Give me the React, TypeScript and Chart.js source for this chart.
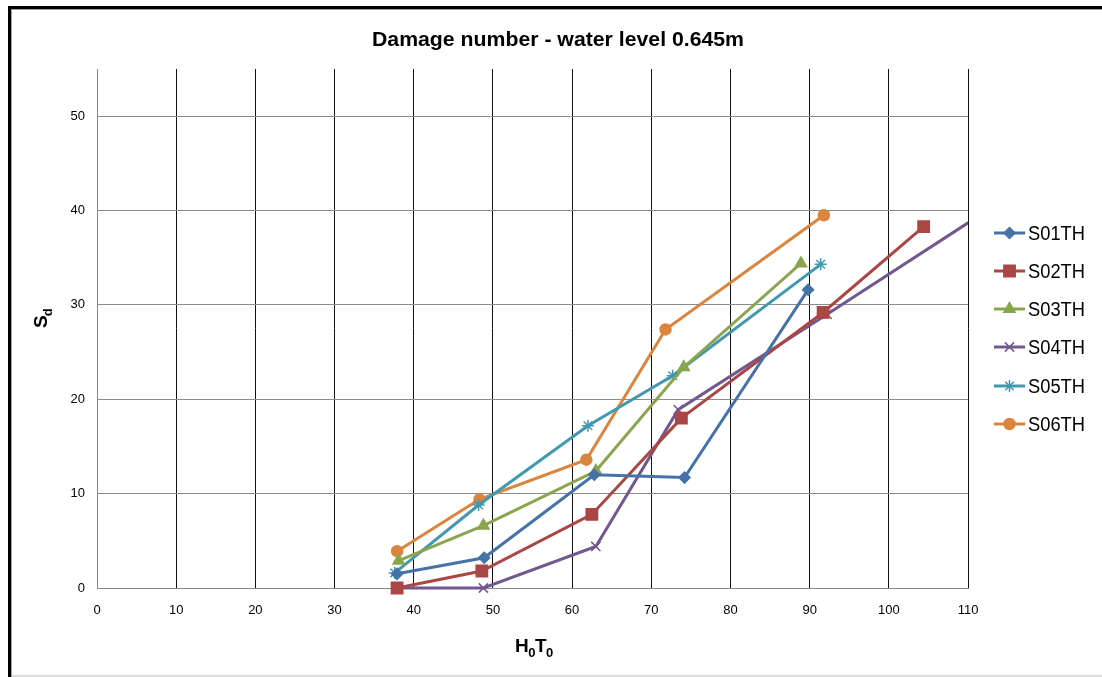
import React, { useEffect, useRef } from 'react';
import { Chart, registerables } from 'chart.js';
import { drawPoint } from 'chart.js/helpers';

Chart.register(...registerables);

const chartTitle = 'Damage number - water level 0.645m';
const seriesNames = ['S01TH', 'S02TH', 'S03TH', 'S04TH', 'S05TH', 'S06TH'];

const s01X = [37.9, 48.9, 62.8, 74.2, 89.8];
const s01Y = [1.5, 3.2, 12.0, 11.7, 31.6];
const s02X = [37.9, 48.6, 62.5, 73.8, 91.7, 104.4];
const s02Y = [0.0, 1.8, 7.8, 18.0, 29.2, 38.3];
const s03X = [38.1, 48.8, 63.0, 74.1, 88.9];
const s03Y = [2.9, 6.6, 12.4, 23.4, 34.4];
const s04X = [38.0, 48.8, 63.0, 73.4, 92.2, 119.0];
const s04Y = [0.0, 0.0, 4.4, 18.9, 29.0, 43.6];
const s05X = [37.6, 48.2, 62.0, 72.7, 91.4];
const s05Y = [1.6, 8.8, 17.2, 22.5, 34.3];
const s06X = [37.9, 48.3, 61.8, 71.8, 91.8];
const s06Y = [3.9, 9.4, 13.6, 27.4, 39.5];

const xTickValues = [0, 10, 20, 30, 40, 50, 60, 70, 80, 90, 100, 110];
const yTickValues = [0, 10, 20, 30, 40, 50];

const seriesX = [s01X, s02X, s03X, s04X, s05X, s06X];
const seriesY = [s01Y, s02Y, s03Y, s04Y, s05Y, s06Y];
const colors = ['#4572A7', '#AA4643', '#89A54E', '#71588F', '#4198AF', '#DB843D'];
const pointStyles = ['rectRot', 'rect', 'triangle', 'crossRot', 'star', 'circle'];
const pointRadii = [5.5, 8, 6.5, 6.5, 6, 5.5];

const FONT = '"Liberation Sans", Arial, Helvetica, sans-serif';

const overlayPlugin = {
  id: 'overlay',
  afterDraw(chart: any) {
    const ctx = chart.ctx as CanvasRenderingContext2D;
    // title
    ctx.save();
    ctx.fillStyle = '#000';
    ctx.font = `bold 21px ${FONT}`;
    ctx.textBaseline = 'alphabetic';
    ctx.textAlign = 'left';
    const tw = ctx.measureText(chartTitle).width;
    ctx.translate(372, 46);
    ctx.scale(372 / tw, 1);
    ctx.fillText(chartTitle, 0, 0);
    ctx.restore();

    // x axis title H0T0
    ctx.save();
    ctx.fillStyle = '#000';
    ctx.textBaseline = 'alphabetic';
    let x = 515;
    const big = `bold 19px ${FONT}`;
    const small = `bold 13px ${FONT}`;
    const parts: [string, boolean][] = [['H', false], ['0', true], ['T', false], ['0', true]];
    for (const [t, sub] of parts) {
      ctx.font = sub ? small : big;
      ctx.fillText(t, x, sub ? 657 : 652);
      x += ctx.measureText(t).width - (sub ? 0.5 : 0.5);
    }
    ctx.restore();

    // y axis title Sd
    ctx.save();
    ctx.fillStyle = '#000';
    ctx.translate(47, 328);
    ctx.rotate(-Math.PI / 2);
    ctx.textBaseline = 'alphabetic';
    ctx.font = big;
    ctx.fillText('S', 0, 0);
    const sw = ctx.measureText('S').width;
    ctx.font = small;
    ctx.fillText('d', sw - 1, 5);
    ctx.restore();

    // legend
    ctx.save();
    const ys = [233, 271, 309, 347, 386, 424];
    seriesNames.forEach((name, i) => {
      const y = ys[i];
      ctx.strokeStyle = colors[i];
      ctx.lineWidth = 3;
      ctx.beginPath();
      ctx.moveTo(994, y);
      ctx.lineTo(1025, y);
      ctx.stroke();
      ctx.fillStyle = colors[i];
      ctx.lineWidth = 1.5;
      drawPoint(ctx, { pointStyle: pointStyles[i] as any, radius: pointRadii[i], rotation: 0, borderWidth: 1.5 }, 1009.5, y);
      ctx.fillStyle = '#000';
      ctx.font = `20px ${FONT}`;
      ctx.textBaseline = 'middle';
      const w = ctx.measureText(name).width;
      ctx.save();
      ctx.translate(1028, y + 1);
      ctx.scale(57 / w, 1);
      ctx.fillText(name, 0, 0);
      ctx.restore();
    });
    ctx.restore();
  },
};

export default function App() {
  const ref = useRef<HTMLCanvasElement>(null);
  useEffect(() => {
    const datasets = seriesNames.map((name, i) => ({
      label: name,
      data: seriesX[i].map((xv, j) => ({ x: xv, y: seriesY[i][j] })),
      borderColor: colors[i],
      backgroundColor: colors[i],
      borderWidth: 3,
      pointStyle: pointStyles[i],
      pointRadius: pointRadii[i],
      pointBorderWidth: 1.5,
      pointBorderColor: colors[i],
      pointBackgroundColor: colors[i],
      showLine: true,
      tension: 0,
      clip: { left: 12, top: 12, right: 0, bottom: 12 },
    }));
    const chart = new Chart(ref.current as HTMLCanvasElement, {
      type: 'scatter',
      data: { datasets: datasets as any },
      plugins: [overlayPlugin],
      options: {
        responsive: false,
        animation: false,
        devicePixelRatio: 1,
        layout: { padding: { left: 0, top: 69, right: 134, bottom: 0 } },
        plugins: {
          legend: { display: false },
          title: { display: false },
          tooltip: { enabled: false },
        },
        scales: {
          x: {
            type: 'linear',
            min: 0,
            max: 110,
            afterFit: (s: any) => { s.height = 89; },
            afterBuildTicks: (s: any) => { s.ticks = xTickValues.map((v) => ({ value: v })); },
            ticks: { color: '#000', font: { family: FONT, size: 13 }, padding: 15, maxRotation: 0 },
            grid: {
              color: (c: any) => (c.tick && c.tick.value === 0 ? '#888' : '#111'),
              lineWidth: 1,
              drawTicks: false,
            },
            border: { color: '#888', width: 1 },
          },
          y: {
            type: 'linear',
            min: 0,
            max: 55,
            afterFit: (s: any) => { s.width = 97; },
            afterBuildTicks: (s: any) => { s.ticks = yTickValues.map((v) => ({ value: v })); },
            ticks: { color: '#000', font: { family: FONT, size: 13 }, padding: 12 },
            grid: { color: '#8c8c8c', lineWidth: 1, drawTicks: false },
            border: { color: '#888', width: 1 },
          },
        },
      },
    } as any);
    return () => chart.destroy();
  }, []);

  return (
    <div style={{ position: 'fixed', left: 0, top: 0, width: 1102, height: 677, background: '#fff', overflow: 'hidden' }}>
      <canvas ref={ref} width={1102} height={677} style={{ display: 'block', width: 1102, height: 677 }} />
      <div style={{ position: 'absolute', left: 8, top: 6, width: 3, bottom: 0, background: '#000' }} />
      <div style={{ position: 'absolute', left: 8, top: 6, right: 0, height: 3, background: '#000' }} />
      <div style={{ position: 'absolute', left: 11, top: 9, width: 1, bottom: 0, background: '#a0a0a0' }} />
      <div style={{ position: 'absolute', left: 11, top: 9, right: 0, height: 1, background: '#a0a0a0' }} />
      <div style={{ position: 'absolute', left: 12, bottom: 0, right: 0, height: 2, background: '#ddd' }} />
    </div>
  );
}
